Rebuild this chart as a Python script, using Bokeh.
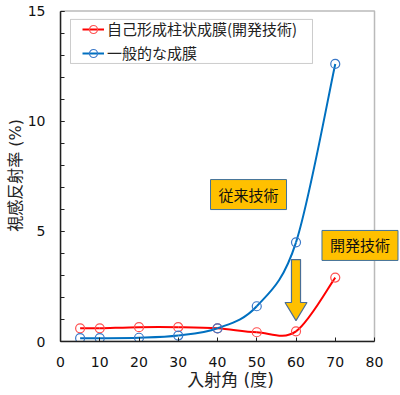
import numpy as np
from bokeh.plotting import figure
from bokeh.models import (Range1d, Legend, LegendItem, Label, BoxAnnotation,
                          FixedTicker, ColumnDataSource)
from bokeh.embed import file_html
from bokeh.resources import INLINE

# ---- data ----
angles = [5, 10, 20, 30, 40, 50, 60, 70]
developed = [0.6, 0.6, 0.65, 0.65, 0.6, 0.42, 0.46, 2.9]       # 自己形成柱状成膜(開発技術)
conventional = [0.15, 0.15, 0.17, 0.27, 0.6, 1.6, 4.5, 12.6]   # 一般的な成膜
series_names = ["自己形成柱状成膜(開発技術)", "一般的な成膜"]
x_ticks = [0, 10, 20, 30, 40, 50, 60, 70, 80]
y_ticks = [0, 5, 10, 15]
y_minor = list(range(0, 16))

FONT_JP = "Noto Sans CJK JP"
FONT_LABEL = "'DejaVu Sans', 'Noto Sans CJK JP'"
FONT_NUM = "DejaVu Sans"
X_MAX, Y_MAX = 80, 15


def smooth_segments(xs, ys):
    """Bezier control points for a smooth line through the points (Excel-like)."""
    x = np.asarray(xs, float)
    y = np.asarray(ys, float)
    n = len(x)
    xp = np.concatenate([[x[0]], x, [x[-1]]])
    yp = np.concatenate([[y[0]], y, [y[-1]]])
    return dict(
        x0=xp[1:n], y0=yp[1:n], x1=xp[2:n + 1], y1=yp[2:n + 1],
        cx0=xp[1:n] + (xp[2:n + 1] - xp[0:n - 1]) / 6.0,
        cy0=yp[1:n] + (yp[2:n + 1] - yp[0:n - 1]) / 6.0,
        cx1=xp[2:n + 1] - (xp[3:n + 2] - xp[1:n]) / 6.0,
        cy1=yp[2:n + 1] - (yp[3:n + 2] - yp[1:n]) / 6.0,
    )


# frame extends past x=80 so the right-hand callout is not clipped
p = figure(width=400, height=395, output_backend="svg", toolbar_location=None,
           x_range=Range1d(0, 86.62), y_range=Range1d(0, 15.07),
           min_border_left=60, min_border_right=0, min_border_top=9,
           min_border_bottom=54)
p.xgrid.visible = False
p.ygrid.visible = False
p.background_fill_color = "white"
p.border_fill_color = "white"
p.outline_line_color = None

# axes
p.xaxis.ticker = FixedTicker(ticks=x_ticks)
p.xaxis.bounds = (0, X_MAX)
p.yaxis.ticker = FixedTicker(ticks=y_ticks, minor_ticks=y_minor)
p.yaxis.bounds = (0, Y_MAX)
for ax in (p.xaxis[0], p.yaxis[0]):
    ax.axis_line_color = "#222222"
    ax.axis_line_width = 1.5
    ax.major_tick_line_color = "#222222"
    ax.major_tick_out = 0
    ax.major_tick_in = 4
    ax.minor_tick_out = 0
    ax.minor_tick_in = 4
    ax.minor_tick_line_color = "#222222"
    ax.major_label_text_font = FONT_NUM
    ax.major_label_text_font_size = "14px"
    ax.major_label_text_color = "#111111"
    ax.axis_label_text_font = FONT_LABEL
    ax.axis_label_text_font_size = "17px"
    ax.axis_label_text_font_style = "normal"
    ax.axis_label_text_color = "#222222"
p.xaxis.minor_tick_line_color = None
p.xaxis.axis_label = "入射角 (度)"
p.yaxis.axis_label = "視感反射率 (%)"
p.yaxis.axis_label_text_font_size = "16px"
p.xaxis.major_label_standoff = 15
p.xaxis.axis_label_standoff = 0
p.yaxis.major_label_standoff = 15
p.yaxis.axis_label_standoff = 0
p.yaxis.major_label_orientation = "horizontal"

# plot box border (0..80 x 0..15)
p.add_layout(BoxAnnotation(left=0, right=X_MAX, bottom=0, top=Y_MAX,
                           fill_alpha=0, line_color="#1a1a1a", line_width=1.5))

# series
renderers = []
for ys, line_col, mark_col in ((developed, "#FF0000", "#FF5050"),
                               (conventional, "#0070C0", "#3A78C8")):
    src = ColumnDataSource(smooth_segments(angles, ys))
    bz = p.bezier(x0="x0", y0="y0", x1="x1", y1="y1", cx0="cx0", cy0="cy0",
                  cx1="cx1", cy1="cy1", source=src, line_color=line_col,
                  line_width=2)
    sc = p.scatter(angles, ys, marker="circle", size=9, fill_color=None,
                   line_color=mark_col, line_width=1.2)
    renderers.append((bz, sc))

# legend box + legend
p.add_layout(BoxAnnotation(left=2.55, right=64.2, top=14.62, bottom=12.62,
                           fill_color="white", fill_alpha=1.0,
                           line_color="#555555", line_width=1))
legend = Legend(items=[LegendItem(label=series_names[i], renderers=list(renderers[i]))
                       for i in range(2)],
                location=(22, 278), padding=0, margin=0, spacing=3,
                label_height=20, glyph_height=20, glyph_width=22,
                label_standoff=3, label_text_font=FONT_JP,
                label_text_font_size="15px", label_text_color="#222222",
                background_fill_alpha=0, border_line_alpha=0)
p.add_layout(legend)

# arrow (annotation)
arrow_x, arrow_top, arrow_head, arrow_tip = 60, 3.72, 1.77, 0.95
shaft_hw, head_hw = 1.15, 2.8
p.patch([arrow_x - shaft_hw, arrow_x + shaft_hw, arrow_x + shaft_hw, arrow_x + head_hw,
         arrow_x, arrow_x - head_hw, arrow_x - shaft_hw],
        [arrow_top, arrow_top, arrow_head, arrow_head, arrow_tip, arrow_head, arrow_head],
        fill_color="#FFC000", line_color="#4A6E96", line_width=1.2)

# callout labels
for txt, lx, ly in (("従来技術", 47.9, 6.67), ("開発技術", 76.3, 4.36)):
    p.add_layout(Label(x=lx, y=ly, text=txt, text_align="center",
                       text_baseline="middle", text_font=FONT_JP,
                       text_font_size="15px", text_color="#111111",
                       background_fill_color="#FFC000", background_fill_alpha=1.0,
                       border_line_color="#41719C", border_line_width=1,
                       padding=dict(left=8, right=8, top=4, bottom=5)))

open("out.html", "w").write(file_html(p, INLINE))
